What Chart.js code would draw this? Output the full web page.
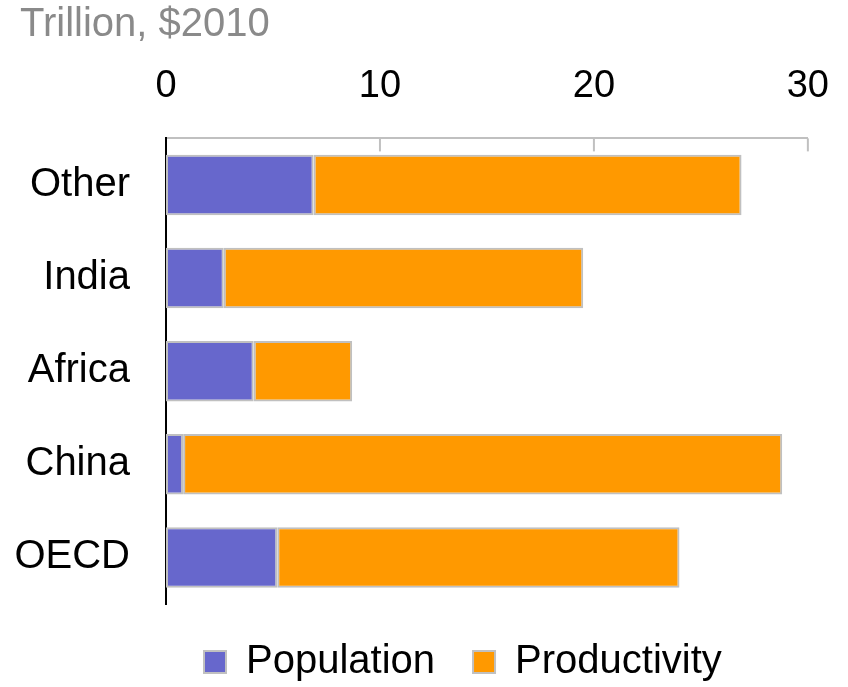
<!DOCTYPE html>
<html>
<head>
<meta charset="utf-8">
<script src="https://cdn.jsdelivr.net/npm/chart.js@4.4.1/dist/chart.umd.min.js"></script>
<style>
  body { margin: 0; background: #fff; }
  canvas { display: block; }
</style>
</head>
<body>
<canvas id="gdpChart" width="848" height="687"></canvas>
<script>
// Values (trillion, $2010)
const categories = ['Other', 'India', 'Africa', 'China', 'OECD'];
const population = [6.9, 2.7, 4.1, 0.8, 5.2];
const productivity = [20.0, 16.8, 4.6, 28.0, 18.8];
const xTicks = [0, 10, 20, 30];

const fontFamily = '"Liberation Sans", Arial, sans-serif';

// short grey tick marks pointing down from the top axis line,
// and nudge the title a little in from the left edge
const innerTicks = {
    id: 'innerTicks',
    afterLayout(chart) {
        if (chart.titleBlock) chart.titleBlock.left = 20;
    },
    afterDatasetsDraw(chart) {
        const x = chart.scales.x;
        const top = chart.chartArea.top;
        const c = chart.ctx;
        c.save();
        c.strokeStyle = '#c0c0c0';
        c.lineWidth = 2;
        xTicks.forEach(v => {
            if (v === 0) return;
            const px = x.getPixelForValue(v);
            c.beginPath();
            c.moveTo(px, top);
            c.lineTo(px, top + 13);
            c.stroke();
        });
        c.restore();
    }
};

const ctx = document.getElementById('gdpChart').getContext('2d');
new Chart(ctx, {
    type: 'bar',
    data: {
        labels: categories,
        datasets: [
            {
                label: 'Population',
                data: population,
                backgroundColor: '#6767cc',
                borderColor: '#c0c0c0',
                borderWidth: 2,
                borderSkipped: false
            },
            {
                label: 'Productivity',
                data: productivity,
                backgroundColor: '#ff9900',
                borderColor: '#c0c0c0',
                borderWidth: 2,
                borderSkipped: false
            }
        ]
    },
    options: {
        indexAxis: 'y',
        responsive: false,
        devicePixelRatio: 1,
        animation: false,
        barPercentage: 0.65,
        categoryPercentage: 1,
        layout: { padding: { left: 0, right: 0, top: 0, bottom: -5 } },
        plugins: {
            title: {
                display: true,
                text: 'Trillion, $2010',
                align: 'start',
                color: '#8a8a8a',
                font: { family: fontFamily, size: 40, weight: 'normal', lineHeight: 1.2 },
                padding: { top: 1, bottom: -13.6 }
            },
            legend: {
                position: 'bottom',
                fullSize: false,
                align: 'start',
                labels: {
                    boxWidth: 22,
                    boxHeight: 22,
                    padding: 38,
                    color: '#000',
                    font: { family: fontFamily, size: 40 }
                }
            },
            tooltip: { enabled: false }
        },
        scales: {
            x: {
                position: 'top',
                stacked: true,
                min: 0,
                max: 30,
                afterBuildTicks(scale) {
                    scale.ticks = xTicks.map(v => ({ value: v }));
                },
                grid: { display: false, drawTicks: false },
                border: { display: true, color: '#c0c0c0', width: 2 },
                ticks: {
                    color: '#000',
                    padding: 19,
                    maxRotation: 0,
                    font: { family: fontFamily, size: 38, lineHeight: 1.71 }
                }
            },
            y: {
                stacked: true,
                afterFit(scale) { scale.width = 166; },
                grid: { display: false, drawTicks: false },
                border: { display: true, color: '#000', width: 2 },
                ticks: {
                    color: '#000',
                    padding: 36,
                    font: { family: fontFamily, size: 40 }
                }
            }
        }
    },
    plugins: [innerTicks]
});
</script>
</body>
</html>
